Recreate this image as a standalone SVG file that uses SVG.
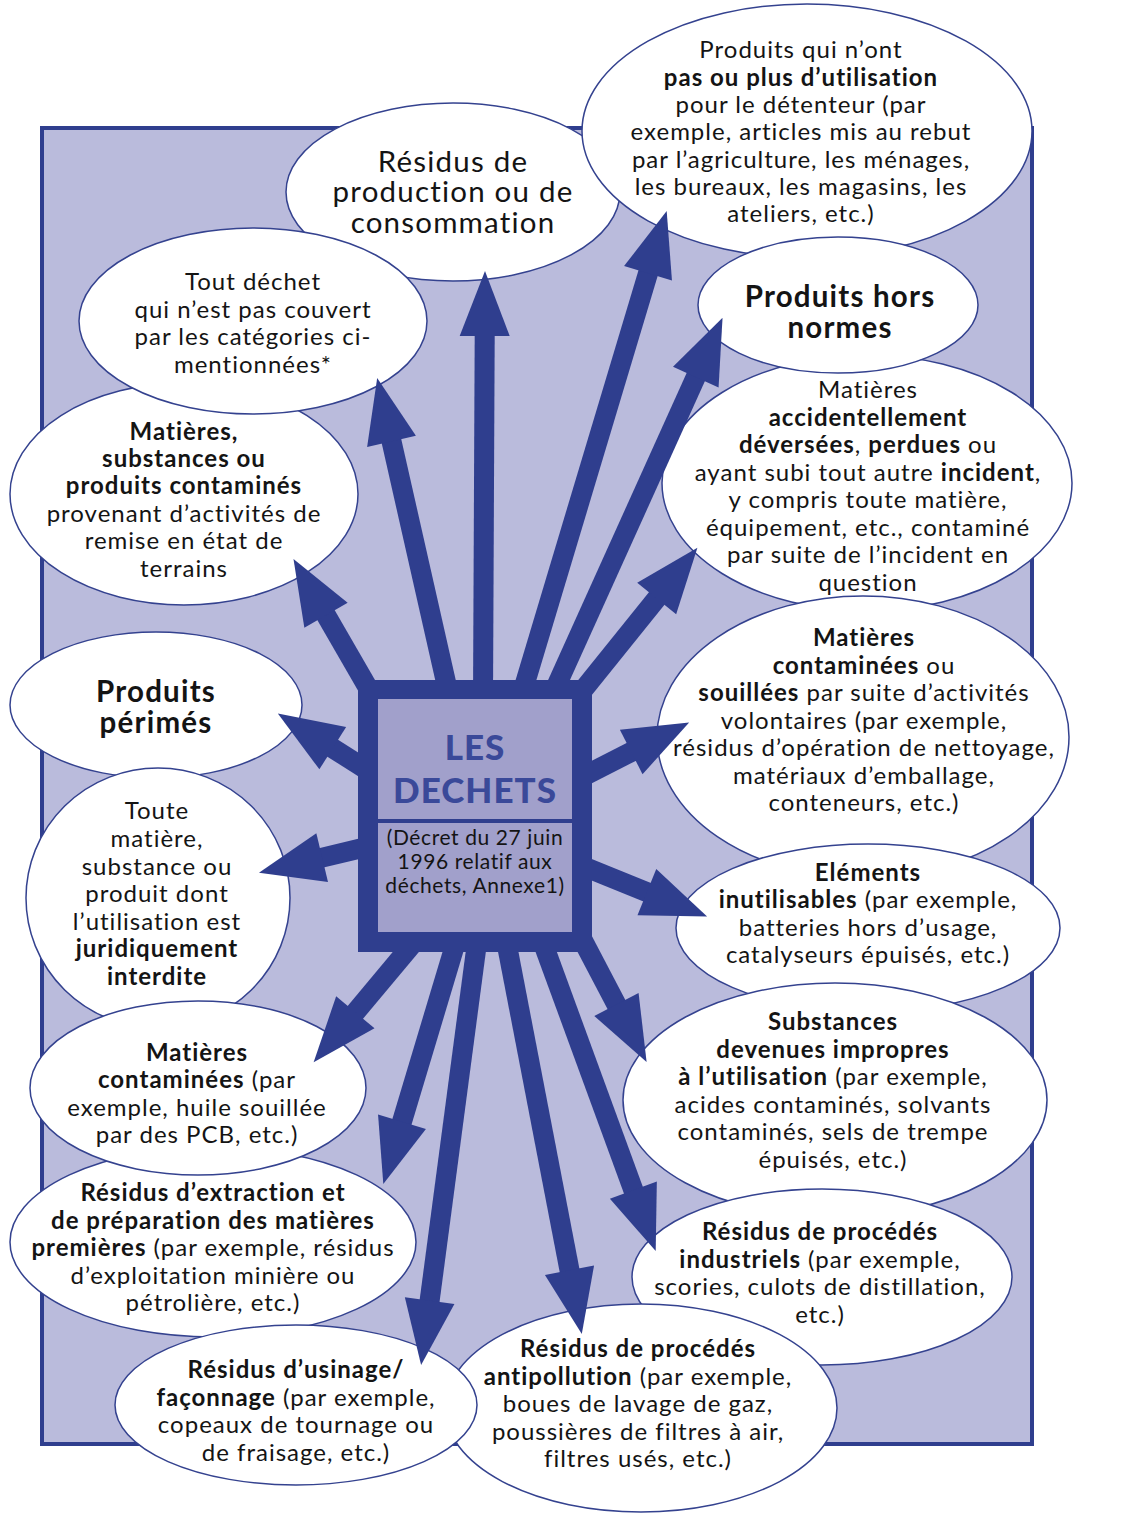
<svg xmlns="http://www.w3.org/2000/svg" width="1125" height="1521" viewBox="0 0 1125 1521">
<style>
.bg{fill:#babbdc;stroke:#2f3e8e;stroke-width:4}
.el{fill:#ffffff;stroke:#34428f;stroke-width:1.5}
.t{font-family:Lato,"Liberation Sans",sans-serif;font-size:24px;fill:#141414;text-anchor:middle;letter-spacing:1px}
.b{font-weight:700}
.big{font-size:29.5px;letter-spacing:1.2px}
.arr{stroke:#2f3e8e;stroke-width:20;fill:none;marker-end:url(#head)}
.ctr{font-family:Lato,"Liberation Sans",sans-serif;text-anchor:middle}
</style>
<defs>
<marker id="head" markerUnits="strokeWidth" markerWidth="3.3" markerHeight="2.5" refX="0.05" refY="1.25" orient="auto" overflow="visible">
<path d="M0,0 L3.25,1.25 L0,2.5 z" fill="#2f3e8e"/>
</marker>
</defs>
<rect class="bg" x="42" y="128" width="990" height="1316"/>

<g id="n-production">
<ellipse class="el" cx="453" cy="192" rx="167" ry="89"/>
<text class="t big" x="453" y="172">Résidus de</text>
<text class="t big" x="453" y="202">production ou de</text>
<text class="t big" x="453" y="233">consommation</text>
</g>
<g id="n-plus-utilisation">
<ellipse class="el" cx="807" cy="131" rx="225" ry="127"/>
<text class="t" x="801" y="58">Produits qui n’ont</text>
<text class="t b" x="801" y="86">pas ou plus d’utilisation</text>
<text class="t" x="801" y="113">pour le détenteur (par</text>
<text class="t" x="801" y="140">exemple, articles mis au rebut</text>
<text class="t" x="801" y="168">par l’agriculture, les ménages,</text>
<text class="t" x="801" y="195">les bureaux, les magasins, les</text>
<text class="t" x="801" y="222">ateliers, etc.)</text>
</g>
<g id="n-remise-etat">
<ellipse class="el" cx="184" cy="494" rx="174" ry="111"/>
<text class="t b" x="184" y="440">Matières,</text>
<text class="t b" x="184" y="467">substances ou</text>
<text class="t b" x="184" y="494">produits contaminés</text>
<text class="t" x="184" y="522">provenant d’activités de</text>
<text class="t" x="184" y="549">remise en état de</text>
<text class="t" x="184" y="577">terrains</text>
</g>
<g id="n-tout-dechet">
<ellipse class="el" cx="253" cy="321" rx="174" ry="93"/>
<text class="t" x="253" y="290">Tout déchet</text>
<text class="t" x="253" y="318">qui n’est pas couvert</text>
<text class="t" x="253" y="345">par les catégories ci-</text>
<text class="t" x="253" y="373">mentionnées*</text>
</g>
<g id="n-accidentellement">
<ellipse class="el" cx="867" cy="483" rx="205" ry="128"/>
<text class="t" x="868" y="398">Matières</text>
<text class="t b" x="868" y="426">accidentellement</text>
<text class="t" x="868" y="453"><tspan class="b">déversées</tspan>, <tspan class="b">perdues</tspan> ou</text>
<text class="t" x="868" y="481">ayant subi tout autre <tspan class="b">incident</tspan>,</text>
<text class="t" x="868" y="508">y compris toute matière,</text>
<text class="t" x="868" y="536">équipement, etc., contaminé</text>
<text class="t" x="868" y="563">par suite de l’incident en</text>
<text class="t" x="868" y="591">question</text>
</g>
<g id="n-hors-normes">
<ellipse class="el" cx="838" cy="305" rx="140" ry="68"/>
<text class="t b big" x="840" y="307">Produits hors</text>
<text class="t b big" x="840" y="338">normes</text>
</g>
<g id="n-perimes">
<ellipse class="el" cx="156" cy="705" rx="146" ry="73"/>
<text class="t b big" x="156" y="702">Produits</text>
<text class="t b big" x="156" y="733">périmés</text>
</g>
<g id="n-interdite">
<ellipse class="el" cx="158" cy="898" rx="132" ry="130"/>
<text class="t" x="157" y="819">Toute</text>
<text class="t" x="157" y="847">matière,</text>
<text class="t" x="157" y="875">substance ou</text>
<text class="t" x="157" y="902">produit dont</text>
<text class="t" x="157" y="930">l’utilisation est</text>
<text class="t b" x="157" y="957">juridiquement</text>
<text class="t b" x="157" y="985">interdite</text>
</g>
<g id="n-extraction">
<ellipse class="el" cx="213" cy="1242" rx="203" ry="95"/>
<text class="t b" x="213" y="1201">Résidus d’extraction et</text>
<text class="t b" x="213" y="1229">de préparation des matières</text>
<text class="t" x="213" y="1256"><tspan class="b">premières</tspan> (par exemple, résidus</text>
<text class="t" x="213" y="1284">d’exploitation minière ou</text>
<text class="t" x="213" y="1311">pétrolière, etc.)</text>
</g>
<g id="n-contaminees-pcb">
<ellipse class="el" cx="198" cy="1088" rx="168" ry="87"/>
<text class="t b" x="197" y="1061">Matières</text>
<text class="t" x="197" y="1088"><tspan class="b">contaminées</tspan> (par</text>
<text class="t" x="197" y="1116">exemple, huile souillée</text>
<text class="t" x="197" y="1143">par des PCB, etc.)</text>
</g>
<g id="n-souillees">
<ellipse class="el" cx="863" cy="737" rx="206" ry="141"/>
<text class="t b" x="864" y="646">Matières</text>
<text class="t" x="864" y="674"><tspan class="b">contaminées</tspan> ou</text>
<text class="t" x="864" y="701"><tspan class="b">souillées</tspan> par suite d’activités</text>
<text class="t" x="864" y="729">volontaires (par exemple,</text>
<text class="t" x="864" y="756">résidus d’opération de nettoyage,</text>
<text class="t" x="864" y="784">matériaux d’emballage,</text>
<text class="t" x="864" y="811">conteneurs, etc.)</text>
</g>
<g id="n-inutilisables">
<ellipse class="el" cx="868" cy="928" rx="192" ry="84"/>
<text class="t b" x="868" y="881">Eléments</text>
<text class="t" x="868" y="908"><tspan class="b">inutilisables</tspan> (par exemple,</text>
<text class="t" x="868" y="936">batteries hors d’usage,</text>
<text class="t" x="868" y="963">catalyseurs épuisés, etc.)</text>
</g>
<g id="n-impropres">
<ellipse class="el" cx="835" cy="1100" rx="212" ry="117"/>
<text class="t b" x="833" y="1030">Substances</text>
<text class="t b" x="833" y="1058">devenues impropres</text>
<text class="t" x="833" y="1085"><tspan class="b">à l’utilisation</tspan> (par exemple,</text>
<text class="t" x="833" y="1113">acides contaminés, solvants</text>
<text class="t" x="833" y="1140">contaminés, sels de trempe</text>
<text class="t" x="833" y="1168">épuisés, etc.)</text>
</g>
<g id="n-industriels">
<ellipse class="el" cx="822" cy="1277" rx="190" ry="88"/>
<text class="t b" x="820" y="1240">Résidus de procédés</text>
<text class="t" x="820" y="1268"><tspan class="b">industriels</tspan> (par exemple,</text>
<text class="t" x="820" y="1295">scories, culots de distillation,</text>
<text class="t" x="820" y="1323">etc.)</text>
</g>
<g id="n-antipollution">
<ellipse class="el" cx="641" cy="1408" rx="196" ry="104"/>
<text class="t b" x="638" y="1357">Résidus de procédés</text>
<text class="t" x="638" y="1385"><tspan class="b">antipollution</tspan> (par exemple,</text>
<text class="t" x="638" y="1412">boues de lavage de gaz,</text>
<text class="t" x="638" y="1440">poussières de filtres à air,</text>
<text class="t" x="638" y="1467">filtres usés, etc.)</text>
</g>
<g id="n-usinage">
<ellipse class="el" cx="296" cy="1405" rx="181" ry="80"/>
<text class="t b" x="296" y="1378">Résidus d’usinage/</text>
<text class="t" x="296" y="1406"><tspan class="b">façonnage</tspan> (par exemple,</text>
<text class="t" x="296" y="1433">copeaux de tournage ou</text>
<text class="t" x="296" y="1461">de fraisage, etc.)</text>
</g>

<g id="connectors">
<path class="arr" d="M483,700 L484.7,335"/>
<path class="arr" d="M450,700 L391.3,440.4"/>
<path class="arr" d="M375,700 L325.5,614.3"/>
<path class="arr" d="M520,700 L648.3,272.3"/>
<path class="arr" d="M550,700 L696.2,376.2"/>
<path class="arr" d="M575,700 L657.3,597.7"/>
<path class="arr" d="M375,775 L331.9,747.7"/>
<path class="arr" d="M375,845 L321.2,857.9"/>
<path class="arr" d="M420,935 L354.7,1013.1"/>
<path class="arr" d="M458,935 L401.7,1122.7"/>
<path class="arr" d="M478,935 L429.5,1301.6"/>
<path class="arr" d="M505,935 L569.7,1271.2"/>
<path class="arr" d="M540,935 L633.7,1191"/>
<path class="arr" d="M580,935 L616.9,1005.4"/>
<path class="arr" d="M580,865 L647.8,892.5"/>
<path class="arr" d="M580,778 L632.1,751.5"/>
</g>

<g id="n-les-dechets">
<rect x="358" y="680" width="234" height="272" fill="#2f3e8e"/>
<rect x="378" y="699" width="194" height="233" fill="#a1a0cb"/>
<rect x="378" y="819" width="194" height="4" fill="#2f3e8e"/>
<text class="ctr" x="475" y="760" font-size="35" font-weight="900" letter-spacing="1" fill="#3a4999">LES</text>
<text class="ctr" x="475" y="803" font-size="35" font-weight="900" letter-spacing="1" fill="#3a4999">DECHETS</text>
<text class="ctr" x="475" y="845" font-size="21" letter-spacing="0.6" fill="#141414">(Décret du 27 juin</text>
<text class="ctr" x="475" y="869" font-size="21" letter-spacing="0.6" fill="#141414">1996 relatif aux</text>
<text class="ctr" x="475" y="893" font-size="21" letter-spacing="0.6" fill="#141414">déchets, Annexe1)</text>
</g>
</svg>
